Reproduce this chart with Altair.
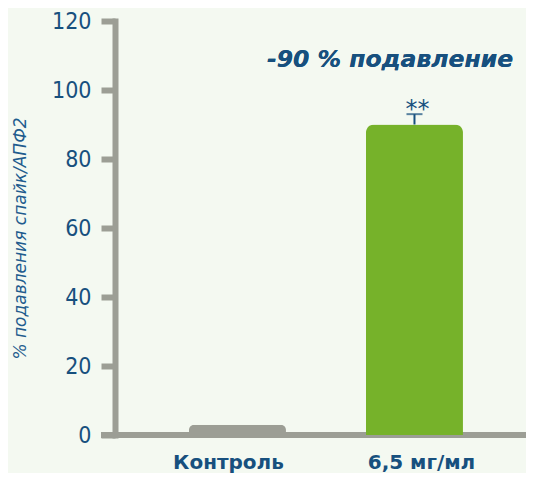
import altair as alt
import pandas as pd

categories = ["Контроль", "6,5 мг/мл"]
values = [3, 90]
err_high = [None, 93]
bar_colors = ["#9C9E95", "#76B22A"]
y_ticks = [0, 20, 40, 60, 80, 100, 120]

df = pd.DataFrame({"cat": categories, "val": values, "hi": err_high, "color": bar_colors})
err_df = df.dropna(subset=["hi"])

W, H = 411, 414
axis_gray = "#9C9E95"
blue = "#17507E"

x_enc = alt.X("cat:N", sort=categories,
              scale=alt.Scale(paddingInner=0.452, paddingOuter=0.387, align=0.54),
              axis=alt.Axis(title=None, domain=False, ticks=False, labelFontWeight="bold",
                            labelFontSize=20, labelColor=blue, labelPadding=17,
                            labelOffset={"condition": {"test": "datum.value == 'Контроль'", "value": -9},
                                         "value": 7},
                            labelFont="DejaVu Sans", labelAngle=0, labelBaseline="top"))
x_plain = alt.X("cat:N", sort=categories)
y_scale = alt.Scale(domain=[0, 120], nice=False)
y_axis = alt.Axis(values=y_ticks, title="% подавления спайк/АПФ2", titleFont="DejaVu Sans",
                  titleFontStyle="italic", titleFontWeight="normal", titleFontSize=17,
                  titleColor="#1F5C8E", titleAngle=-90, titleX=-95, titleY=217,
                  titleAlign="center", titleBaseline="middle",
                  labelFont="DejaVu Sans Condensed", labelFontSize=23, labelColor=blue,
                  labelPadding=10, domainColor=axis_gray, domainWidth=6, domainCap="square",
                  tickColor=axis_gray, tickWidth=6, tickSize=14, grid=False)

xline = alt.Chart(df).mark_rule(color=axis_gray, strokeWidth=6).encode(
    x=alt.value(-14), x2=alt.value(W), y=alt.value(H))

bars = alt.Chart(df).mark_bar(cornerRadiusTopLeft=8, cornerRadiusTopRight=8).encode(
    x=x_enc,
    y=alt.Y("val:Q", scale=y_scale, axis=y_axis),
    color=alt.Color("color:N", scale=None),
)

err = alt.Chart(err_df).mark_rule(color=blue, strokeWidth=2).encode(
    x=x_plain, y="val:Q", y2="hi:Q")
cap = alt.Chart(err_df).mark_tick(color=blue, thickness=2, size=16, orient="horizontal").encode(
    x=x_plain, y="hi:Q")
stars = alt.Chart(err_df).mark_text(text="**", color=blue, fontSize=24, font="DejaVu Sans",
                                    baseline="bottom", dy=8, dx=3).encode(
    x=x_plain, y="hi:Q")

title = alt.Chart(df).mark_text(text="-90 % подавление", color=blue, fontSize=23.5,
                                font="DejaVu Sans", fontWeight="bold", fontStyle="italic",
                                baseline="middle", align="center").encode(
    x=alt.value(275), y=alt.value(39))

chart = alt.layer(xline, bars, err, cap, stars, title).properties(
    width=W, height=H, background="#F4F9F1",
    padding={"left": 107, "top": 13, "right": 0, "bottom": 38},
    autosize=alt.AutoSizeParams(type="none"),
).configure_view(stroke=None)

chart.save("out.html", embed_options={"renderer": "svg", "actions": False})
